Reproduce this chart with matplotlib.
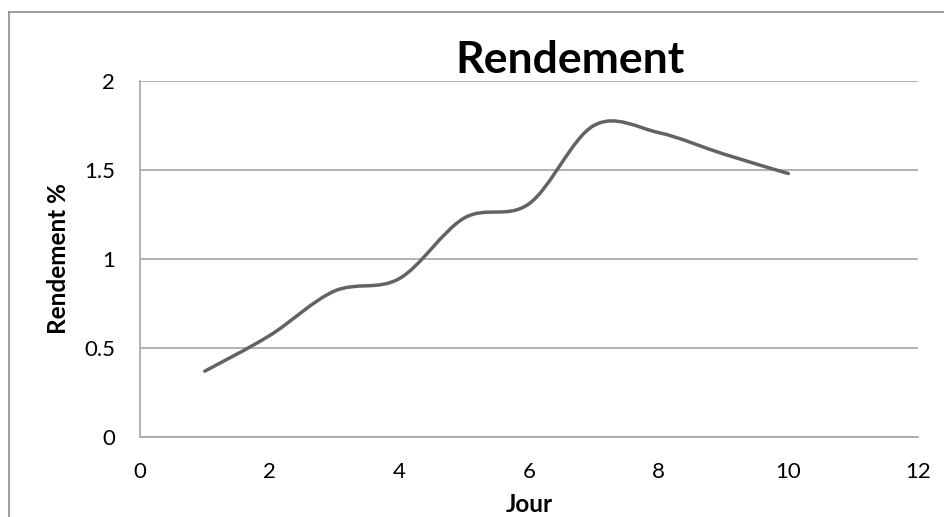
import numpy as np
import matplotlib.pyplot as plt
from matplotlib.path import Path
from matplotlib.patches import PathPatch
from matplotlib.lines import Line2D

# data
jour = [1, 2, 3, 4, 5, 6, 7, 8, 9, 10]
rendement = [0.37, 0.57, 0.82, 0.89, 1.23, 1.31, 1.75, 1.71, 1.59, 1.48]
xticks = [0, 2, 4, 6, 8, 10, 12]
yticks = [0, 0.5, 1, 1.5, 2]
ytick_labels = ['0', '0.5', '1', '1.5', '2']

plt.rcParams['font.family'] = ['Lato', 'DejaVu Sans']

fig = plt.figure(figsize=(9.44, 5.17), dpi=100)
ax = fig.add_axes([140/944, 80/517, 778/944, 356/517])

# excel style smoothed line (bezier through the points)
pts = np.column_stack([jour, rendement]).astype(float)
verts = [pts[0]]
codes = [Path.MOVETO]
n = len(pts)
for i in range(n - 1):
    p0 = pts[max(i - 1, 0)]
    p1 = pts[i]
    p2 = pts[i + 1]
    p3 = pts[min(i + 2, n - 1)]
    c1 = p1 + (p2 - p0) / 6.0
    c2 = p2 - (p3 - p1) / 6.0
    verts += [c1, c2, p2]
    codes += [Path.CURVE4] * 3
ax.add_patch(PathPatch(Path(verts, codes), facecolor='none', edgecolor='#636363',
                       lw=2.5, capstyle='round', joinstyle='round', zorder=3))

ax.set_xlim(0, 12)
ax.set_ylim(0, 2)
ax.set_xticks(xticks)
ax.set_yticks(yticks)
ax.set_yticklabels(ytick_labels)
ax.grid(axis='y', color='#a6a6a6', lw=1.2)
ax.set_axisbelow(True)
for s in ['top', 'right']:
    ax.spines[s].set_visible(False)
for s in ['left', 'bottom']:
    ax.spines[s].set_color('#a6a6a6')
    ax.spines[s].set_linewidth(1.2)
ax.tick_params(length=0, labelsize=16)
ax.tick_params(axis='y', pad=18)
ax.tick_params(axis='x', pad=18)

fig.text(59/944, 1 - 259/517, 'Rendement %', rotation=90, fontsize=17.5, fontweight='bold',
         ha='center', va='center')
fig.text(529/944, 1 - 505/517, 'Jour', fontsize=17.5, fontweight='bold', ha='center', va='center')
fig.text(570/944, 1 - 60/517, 'Rendement', fontsize=32, fontweight='bold', ha='center', va='center')

# outer chart border
fig.add_artist(Line2D([9/944, 1], [1 - 12/517, 1 - 12/517], color='#8c8c8c', lw=1.2))
fig.add_artist(Line2D([9/944, 9/944], [0, 1 - 12/517], color='#8c8c8c', lw=1.2))

fig.savefig('out.png', dpi=100)
